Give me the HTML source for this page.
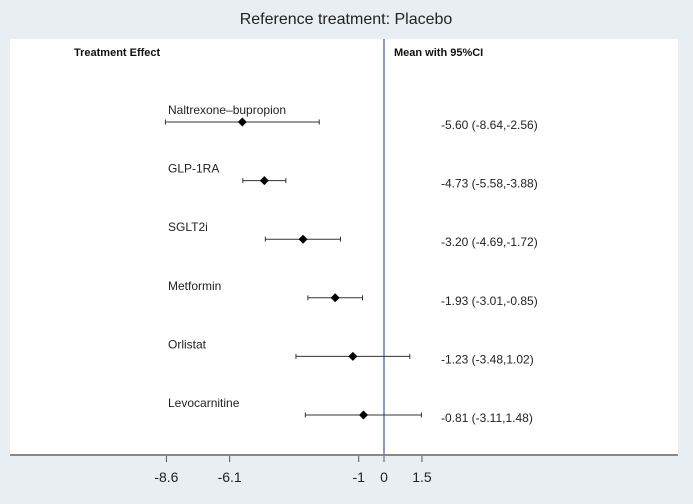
<!DOCTYPE html>
<html><head><meta charset="utf-8"><style>
body{margin:0;background:#e8eef1;font-family:"Liberation Sans",Arial,sans-serif}
svg{display:block}
</style></head><body>
<svg width="693" height="504" xmlns="http://www.w3.org/2000/svg">
<rect x="0" y="0" width="693" height="504" fill="#e8eef1"/>
<rect x="10" y="39" width="668" height="416" fill="#ffffff"/>
<text x="346" y="24" font-size="16" text-anchor="middle" fill="#222">Reference treatment: Placebo</text>
<text x="74" y="56" font-size="11" font-weight="bold" fill="#111">Treatment Effect</text>
<text x="394" y="56" font-size="11" font-weight="bold" fill="#111">Mean with 95%CI</text>
<g id="marks"></g>
<line x1="10" y1="455" x2="678" y2="455" stroke="#888" stroke-width="2"/>
<g id="ticks"></g>
</svg>
<script>
const treatments=["Naltrexone–bupropion","GLP-1RA","SGLT2i","Metformin","Orlistat","Levocarnitine"];
const means=[-5.60,-4.73,-3.20,-1.93,-1.23,-0.81];
const lowers=[-8.64,-5.58,-4.69,-3.01,-3.48,-3.11];
const uppers=[-2.56,-3.88,-1.72,-0.85,1.02,1.48];
const ciLabels=["-5.60 (-8.64,-2.56)","-4.73 (-5.58,-3.88)","-3.20 (-4.69,-1.72)","-1.93 (-3.01,-0.85)","-1.23 (-3.48,1.02)","-0.81 (-3.11,1.48)"];
const tickValues=[-8.6,-6.1,-1,0,1.5];
const tickLabels=["-8.6","-6.1","-1","0","1.5"];
const NS="http://www.w3.org/2000/svg";
const xScale=v=>384+v*25.3;
const yScale=i=>122+i*58.6;
function mk(tag,attrs,parent){const e=document.createElementNS(NS,tag);for(const k in attrs)e.setAttribute(k,attrs[k]);parent.appendChild(e);return e;}
const g=document.getElementById('marks');
const ref=mk('line',{x1:xScale(0),y1:39,x2:xScale(0),y2:455,stroke:'#3a55b5','stroke-width':1.2},g);


treatments.forEach((t,i)=>{
  const y=yScale(i);
  const lab=mk('text',{x:168,y:y-8,'font-size':12,fill:'#222'},g);lab.textContent=t;
  
  
  const ci=mk('line',{x1:xScale(lowers[i]),y1:y,x2:xScale(uppers[i]),y2:y,stroke:'#333','stroke-width':1},g);
  
  
  [lowers[i],uppers[i]].forEach(v=>{const c=mk('line',{x1:xScale(v),y1:y-2.5,x2:xScale(v),y2:y+2.5,stroke:'#333','stroke-width':1},g);
    
    });
  const x=xScale(means[i]);
  const p=mk('polygon',{points:`${x},${y-4.5} ${x+4.5},${y} ${x},${y+4.5} ${x-4.5},${y}`,fill:'#000'},g);
  
  
  const v=mk('text',{x:441,y:y+7,'font-size':12,fill:'#222'},g);v.textContent=ciLabels[i];
  
  
});
const tg=document.getElementById('ticks');
tickValues.forEach((v,i)=>{
  const x=xScale(v);
  const tl=mk('line',{x1:x,y1:456,x2:x,y2:462,stroke:'#555','stroke-width':1},tg);
  
  
  const tt=mk('text',{x:x,y:482,'font-size':14,'text-anchor':'middle',fill:'#222'},tg);tt.textContent=tickLabels[i];
  
  
});
</script>
</body></html>
